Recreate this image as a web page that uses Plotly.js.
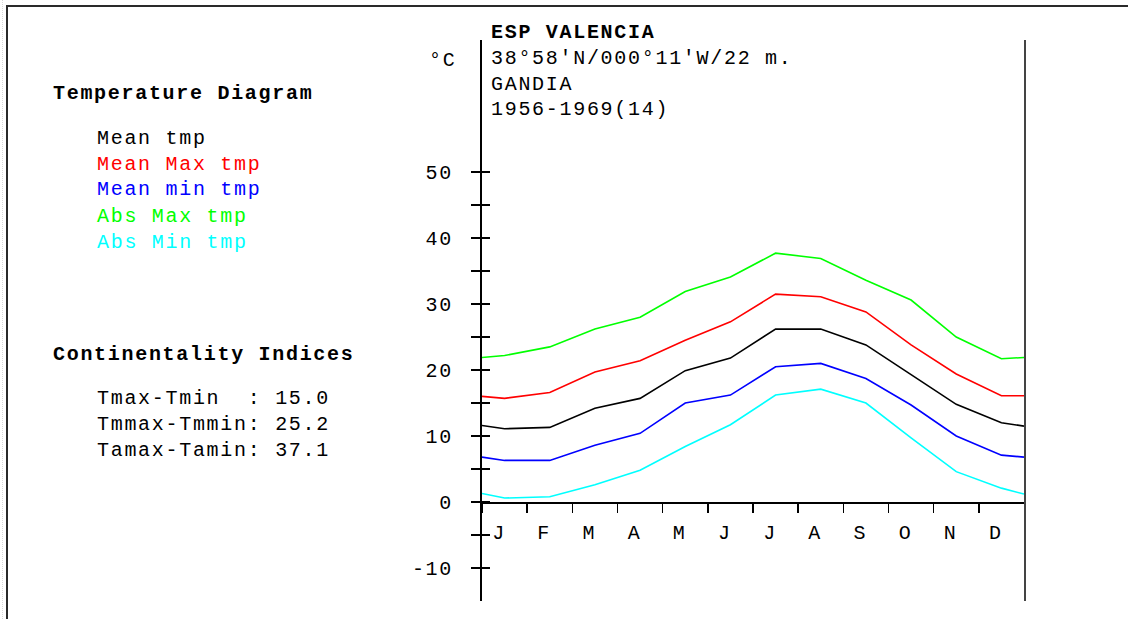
<!DOCTYPE html>
<html>
<head>
<meta charset="utf-8">
<script src="https://cdn.plot.ly/plotly-3.0.1.min.js"></script>
<style>
  html, body { margin:0; padding:0; background:#fff; }
  #wrap { position:relative; width:1128px; height:619px; overflow:hidden; }
  #chart { position:absolute; left:0; top:0; width:1128px; height:619px; }
  #frame { position:absolute; left:6px; top:5px; right:-10px; bottom:-10px;
           border-top:2px solid #2a2a2a; border-left:2px solid #2a2a2a; pointer-events:none; }
  #edge { position:absolute; left:2px; top:0; width:0; height:619px; border-left:1px dotted #d8d8d8; }
  svg text { letter-spacing:1.7px; }
</style>
</head>
<body>
<div id="wrap">
  <div id="chart"></div>
  <div id="edge"></div>
  <div id="frame"></div>
</div>
<script>
// ---- data ----
const months = ['J','F','M','A','M','J','J','A','S','O','N','D'];
const meanTmp = [11.1, 11.3, 14.2, 15.7, 19.9, 21.8, 26.2, 26.2, 23.8, 19.3, 14.8, 12.0];
const meanMax = [15.7, 16.6, 19.7, 21.4, 24.5, 27.3, 31.5, 31.1, 28.8, 23.8, 19.4, 16.1];
const meanMin = [6.3, 6.3, 8.6, 10.4, 15.0, 16.2, 20.5, 21.0, 18.7, 14.7, 10.0, 7.1];
const absMax  = [22.2, 23.5, 26.2, 28.0, 31.9, 34.1, 37.7, 36.9, 33.6, 30.6, 25.0, 21.7];
const absMin  = [0.6, 0.8, 2.6, 4.8, 8.4, 11.7, 16.2, 17.1, 15.0, 9.7, 4.6, 2.1];
// values at the left (1 Jan) and right (31 Dec) edges of the plot
const meanTmpEnds = [11.6, 11.5];
const meanMaxEnds = [16.0, 16.1];
const meanMinEnds = [6.8, 6.8];
const absMaxEnds  = [21.9, 21.9];
const absMinEnds  = [1.3, 1.2];

const seriesNames = ['Mean tmp', 'Mean Max tmp', 'Mean min tmp', 'Abs Max tmp', 'Abs Min tmp'];
const seriesColors = ['#000000', '#ff0000', '#0000ff', '#00ff00', '#00ffff'];
const yTickValues = [-10, -5, 0, 5, 10, 15, 20, 25, 30, 35, 40, 45, 50];
const stationLines = ['38°58\'N/000°11\'W/22 m.', 'GANDIA', '1956-1969(14)'];
const stationTitle = 'ESP VALENCIA';
const indexLabels = ['Tmax-Tmin\u00a0\u00a0: 15.0', 'Tmmax-Tmmin: 25.2', 'Tamax-Tamin: 37.1'];

// ---- build ----
const nM = months.length;
const xs = [0].concat(months.map((m, i) => i + 0.5), [nM]);
const allSeries = [meanTmp, meanMax, meanMin, absMax, absMin];
const allEnds = [meanTmpEnds, meanMaxEnds, meanMinEnds, absMaxEnds, absMinEnds];
// all y axes share the same range; spreading traces over them makes each axis draw
const yAxisOf = ['y', 'y', 'y', 'y3', 'y2'];

const traces = allSeries.map((s, k) => ({
  type: 'scatter', mode: 'lines', x: xs,
  y: [allEnds[k][0]].concat(s, [allEnds[k][1]]),
  line: { color: seriesColors[k], width: 1.6, shape: 'linear' },
  name: seriesNames[k], hoverinfo: 'skip', xaxis: 'x', yaxis: yAxisOf[k]
}));

const W = 1128, H = 619;
const L = 482, R = 1024, T = 40, B = 601;
const yMin = -15, yMax = 70;
const px = v => (v - L) / (R - L);
const py = v => (B - v) / (B - T);
const zeroPos = (0 - yMin) / (yMax - yMin);

const FONT = 'Liberation Mono, DejaVu Sans Mono, monospace';
const FS = 20;

const ann = [];
function addText(text, x, y, color, bold) {
  ann.push({ text: text, xref: 'paper', yref: 'paper', x: px(x), y: py(y),
    xanchor: 'left', yanchor: 'middle', showarrow: false,
    font: { family: FONT, size: FS, color: color || '#000', weight: bold ? 700 : 400 } });
}
addText('°C', 427, 60);
addText(stationTitle, 489, 32, '#000', true);
stationLines.forEach((t, i) => addText(t, 489, 58 + i * 26));
addText('Temperature Diagram', 51, 93, '#000', true);
seriesNames.forEach((t, i) => addText(t, 95, 138 + i * 26, seriesColors[i]));
addText('Continentality Indices', 51, 354, '#000', true);
indexLabels.forEach((t, i) => addText(t, 95, 398 + i * 26));

const rng = [yMin, yMax];
const layout = {
  width: W, height: H,
  margin: { l: L, r: W - R, t: T, b: H - B, pad: 0 },
  paper_bgcolor: 'rgba(0,0,0,0)', plot_bgcolor: 'rgba(0,0,0,0)',
  showlegend: false,
  font: { family: FONT, size: FS, color: '#000' },
  xaxis: {
    range: [0, nM], anchor: 'free', position: zeroPos,
    showline: true, linecolor: '#000', linewidth: 1.5,
    tickvals: months.map((m, i) => i), ticktext: months,
    ticks: 'outside', ticklen: 9, tickwidth: 1.5, tickcolor: '#000',
    ticklabelshift: 17, ticklabelstandoff: 2,
    tickfont: { family: FONT, size: FS, color: '#000' },
    showgrid: false, zeroline: false, fixedrange: true
  },
  yaxis: {
    range: rng, tickvals: yTickValues,
    ticktext: yTickValues.map(v => v % 10 === 0 ? String(v) : ''),
    ticks: 'outside', ticklen: 9, tickwidth: 1.5, tickcolor: '#000',
    showline: true, linecolor: '#000', linewidth: 2,
    showgrid: false, zeroline: false, ticklabelstandoff: 14,
    tickfont: { family: FONT, size: FS, color: '#000' }, fixedrange: true
  },
  yaxis2: {
    overlaying: 'y', anchor: 'x', range: rng, tickvals: yTickValues,
    ticks: 'inside', ticklen: 8, tickwidth: 1.5, tickcolor: '#000',
    showticklabels: false, showline: false, showgrid: false, zeroline: false, fixedrange: true
  },
  yaxis3: {
    overlaying: 'y', side: 'right', anchor: 'x', range: rng,
    showline: true, linecolor: '#444', linewidth: 2, ticks: '',
    showticklabels: false, showgrid: false, zeroline: false, fixedrange: true
  },
  annotations: ann
};

Plotly.newPlot('chart', traces, layout, { displayModeBar: false, staticPlot: true });
</script>
</body>
</html>
